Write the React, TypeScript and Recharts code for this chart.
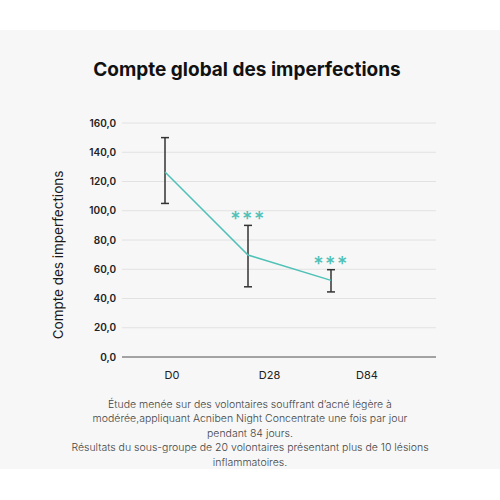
import React from 'react';
import { ComposedChart, Line, XAxis, YAxis, CartesianGrid, ErrorBar, LabelList } from 'recharts';

const categories = ['D0', 'D28', 'D84'];
const means = [126.5, 69.7, 52.4];
const lows = [105.0, 48.0, 44.5];
const highs = [150.0, 90.0, 59.7];
const significance = ['', '***', '***'];
const yTicks = [0, 20, 40, 60, 80, 100, 120, 140, 160];

const title = 'Compte global des imperfections';
const yLabel = 'Compte des imperfections';
const footerLines = [
  'Étude menée sur des volontaires souffrant d\u2019acné légère à',
  'modérée,appliquant Acniben Night Concentrate une fois par jour',
  'pendant 84 jours.',
  'Résultats du sous-groupe de 20 volontaires présentant plus de 10 lésions',
  'inflammatoires.',
];

const data = categories.map((c, i) => ({
  cat: c,
  mean: means[i],
  high: highs[i],
  err: [means[i] - lows[i], highs[i] - means[i]],
  sig: significance[i],
}));

const TEAL = '#4fc1b7';
const FONT = 'Inter, "Noto Sans", sans-serif';

const fmt = (v: number) => v.toFixed(1).replace('.', ',');

const SigLabel = (props: any) => {
  const { x, y, value } = props;
  if (!value) return null;
  return (
    <text x={x} y={y + 1} textAnchor="middle" fill={TEAL} fontSize={20} fontFamily={FONT} fontWeight={500} letterSpacing={1.5}>
      {value}
    </text>
  );
};

const YLabelContent = (props: any) => {
  const vb = props.viewBox || {};
  const cx = vb.x + 16;
  const cy = vb.y + vb.height / 2 + 15;
  return (
    <text x={cx} y={cy} transform={`rotate(-90, ${cx}, ${cy})`} textAnchor="middle" dominantBaseline="central" fill="#1a1a1a" fontSize={13.5} fontFamily={FONT}>
      {yLabel}
    </text>
  );
};

export default function App() {
  return (
    <div style={{ position: 'absolute', left: 0, top: 0, width: 500, height: 500, background: '#ffffff', fontFamily: FONT }}>
      <div style={{ position: 'absolute', left: 0, top: 30, width: 500, height: 439, background: '#f7f7f7' }} />
      <div style={{ position: 'absolute', left: 0, top: 58, width: 494, textAlign: 'center', fontSize: 19, fontWeight: 700, color: '#111', letterSpacing: 0 }}>
        {title}
      </div>
      <div style={{ position: 'absolute', left: 0, top: 0 }}>
        <ComposedChart width={500} height={400} data={data} margin={{ top: 123, right: 64, bottom: 13, left: 42 }}>
          <CartesianGrid xAxisId="labels" vertical={false} stroke="#e2e2e2" strokeWidth={1} />
          <XAxis
            xAxisId="labels"
            dataKey="cat"
            scale="point"
            padding={{ left: 50, right: 69 }}
            height={30}
            tickLine={false}
            axisLine={{ stroke: '#8a8a8a', strokeWidth: 1.5 }}
            tickMargin={8}
            tick={{ fill: '#222', fontSize: 11, fontFamily: FONT }}
          />
          <XAxis xAxisId="data" dataKey="cat" scale="point" padding={{ left: 43, right: 105 }} height={0} hide />
          <YAxis
            width={80}
            domain={[0, 160]}
            ticks={yTicks}
            tickFormatter={fmt}
            axisLine={false}
            tickLine={false}
            tickMargin={0}
            tick={{ fill: '#222', fontSize: 10, fontWeight: 600, fontFamily: FONT }}
            label={{ content: YLabelContent }}
          />
          <Line xAxisId="data" type="linear" dataKey="mean" stroke={TEAL} strokeWidth={1.5} dot={false} activeDot={false} isAnimationActive={false}>
            <ErrorBar dataKey="err" width={4} stroke="#333" strokeWidth={1.5} direction="y" isAnimationActive={false} />
          </Line>
          <Line xAxisId="data" type="linear" dataKey="high" stroke="none" dot={false} activeDot={false} isAnimationActive={false}>
            <LabelList dataKey="sig" content={SigLabel} />
          </Line>
        </ComposedChart>
      </div>
      <div style={{ position: 'absolute', left: 0, top: 398, width: 500, textAlign: 'center', fontSize: 10.5, lineHeight: '14.4px', fontWeight: 300, color: '#444' }}>
        {footerLines.map((l, i) => (
          <div key={i}>{l}</div>
        ))}
      </div>
    </div>
  );
}
